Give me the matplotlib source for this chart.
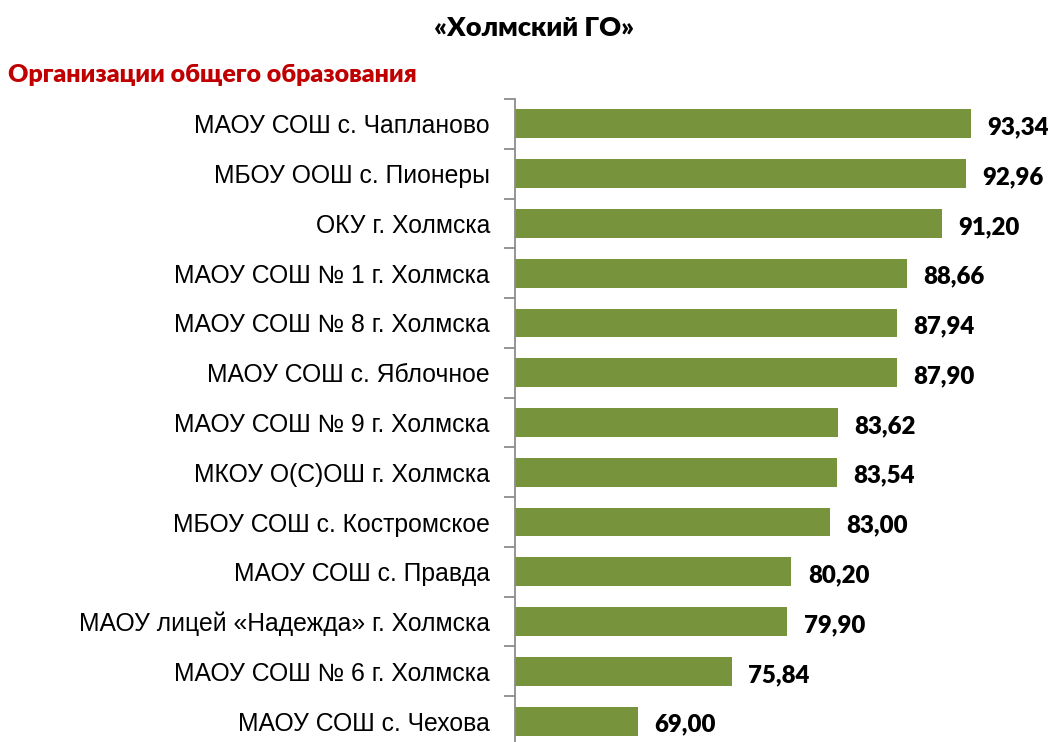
import matplotlib
matplotlib.use("Agg")
import matplotlib.pyplot as plt

# Data (top to bottom as in the chart)
schools = [
    "МАОУ СОШ с. Чапланово",
    "МБОУ ООШ с. Пионеры",
    "ОКУ г. Холмска",
    "МАОУ СОШ № 1 г. Холмска",
    "МАОУ СОШ № 8 г. Холмска",
    "МАОУ СОШ с. Яблочное",
    "МАОУ СОШ № 9 г. Холмска",
    "МКОУ О(С)ОШ г. Холмска",
    "МБОУ СОШ с. Костромское",
    "МАОУ СОШ с. Правда",
    "МАОУ лицей «Надежда» г. Холмска",
    "МАОУ СОШ № 6 г. Холмска",
    "МАОУ СОШ с. Чехова",
]
scores = [93.34, 92.96, 91.20, 88.66, 87.94, 87.90, 83.62,
          83.54, 83.00, 80.20, 79.90, 75.84, 69.00]

bar_color = "#77933C"
axis_color = "#8C8C8C"

W, H = 1052, 742
fig = plt.figure(figsize=(W / 100, H / 100), dpi=100)

# axes placed in pixel terms; bottom slot runs just past the figure edge
left, top, bottom = 515, 99, 746
ax = fig.add_axes([left / W, 1 - bottom / H, (W - left) / W, (bottom - top) / H])

n = len(schools)
ypos = list(range(n))
ax.barh(ypos, scores, height=0.58, color=bar_color, left=0)
ax.set_xlim(60, 99.25)
ax.set_ylim(n - 0.5, -0.5)

for y, v in zip(ypos, scores):
    ax.text(v + 1.2, y + 0.07, f"{v:.2f}".replace(".", ","), va="center", ha="left",
            fontsize=17.3, fontweight="heavy", family="Lato", color="black")

for s in ["top", "right", "bottom"]:
    ax.spines[s].set_visible(False)
ax.spines["left"].set_color(axis_color)
ax.spines["left"].set_linewidth(1.3)
ax.set_xticks([])

# ticks at category boundaries, labels at centres
ax.set_yticks([i - 0.5 for i in range(n + 1)])
ax.set_yticklabels([])
ax.tick_params(axis="y", which="major", length=8, width=1.3, color=axis_color)
ax.set_yticks(ypos, minor=True)
ax.set_yticklabels(schools, minor=True, fontsize=17.8, family="Liberation Sans")
ax.tick_params(axis="y", which="minor", length=0, pad=18)

fig.text(534 / W, 1 - 28 / H, "«Холмский ГО»", ha="center", va="center",
         fontsize=19.5, fontweight="heavy", family="Lato")
fig.text(8 / W, 1 - 75 / H, "Организации общего образования", ha="left", va="center",
         fontsize=18, fontweight="heavy", family="Lato", color="#C00000")

fig.savefig("out.png", dpi=100)
